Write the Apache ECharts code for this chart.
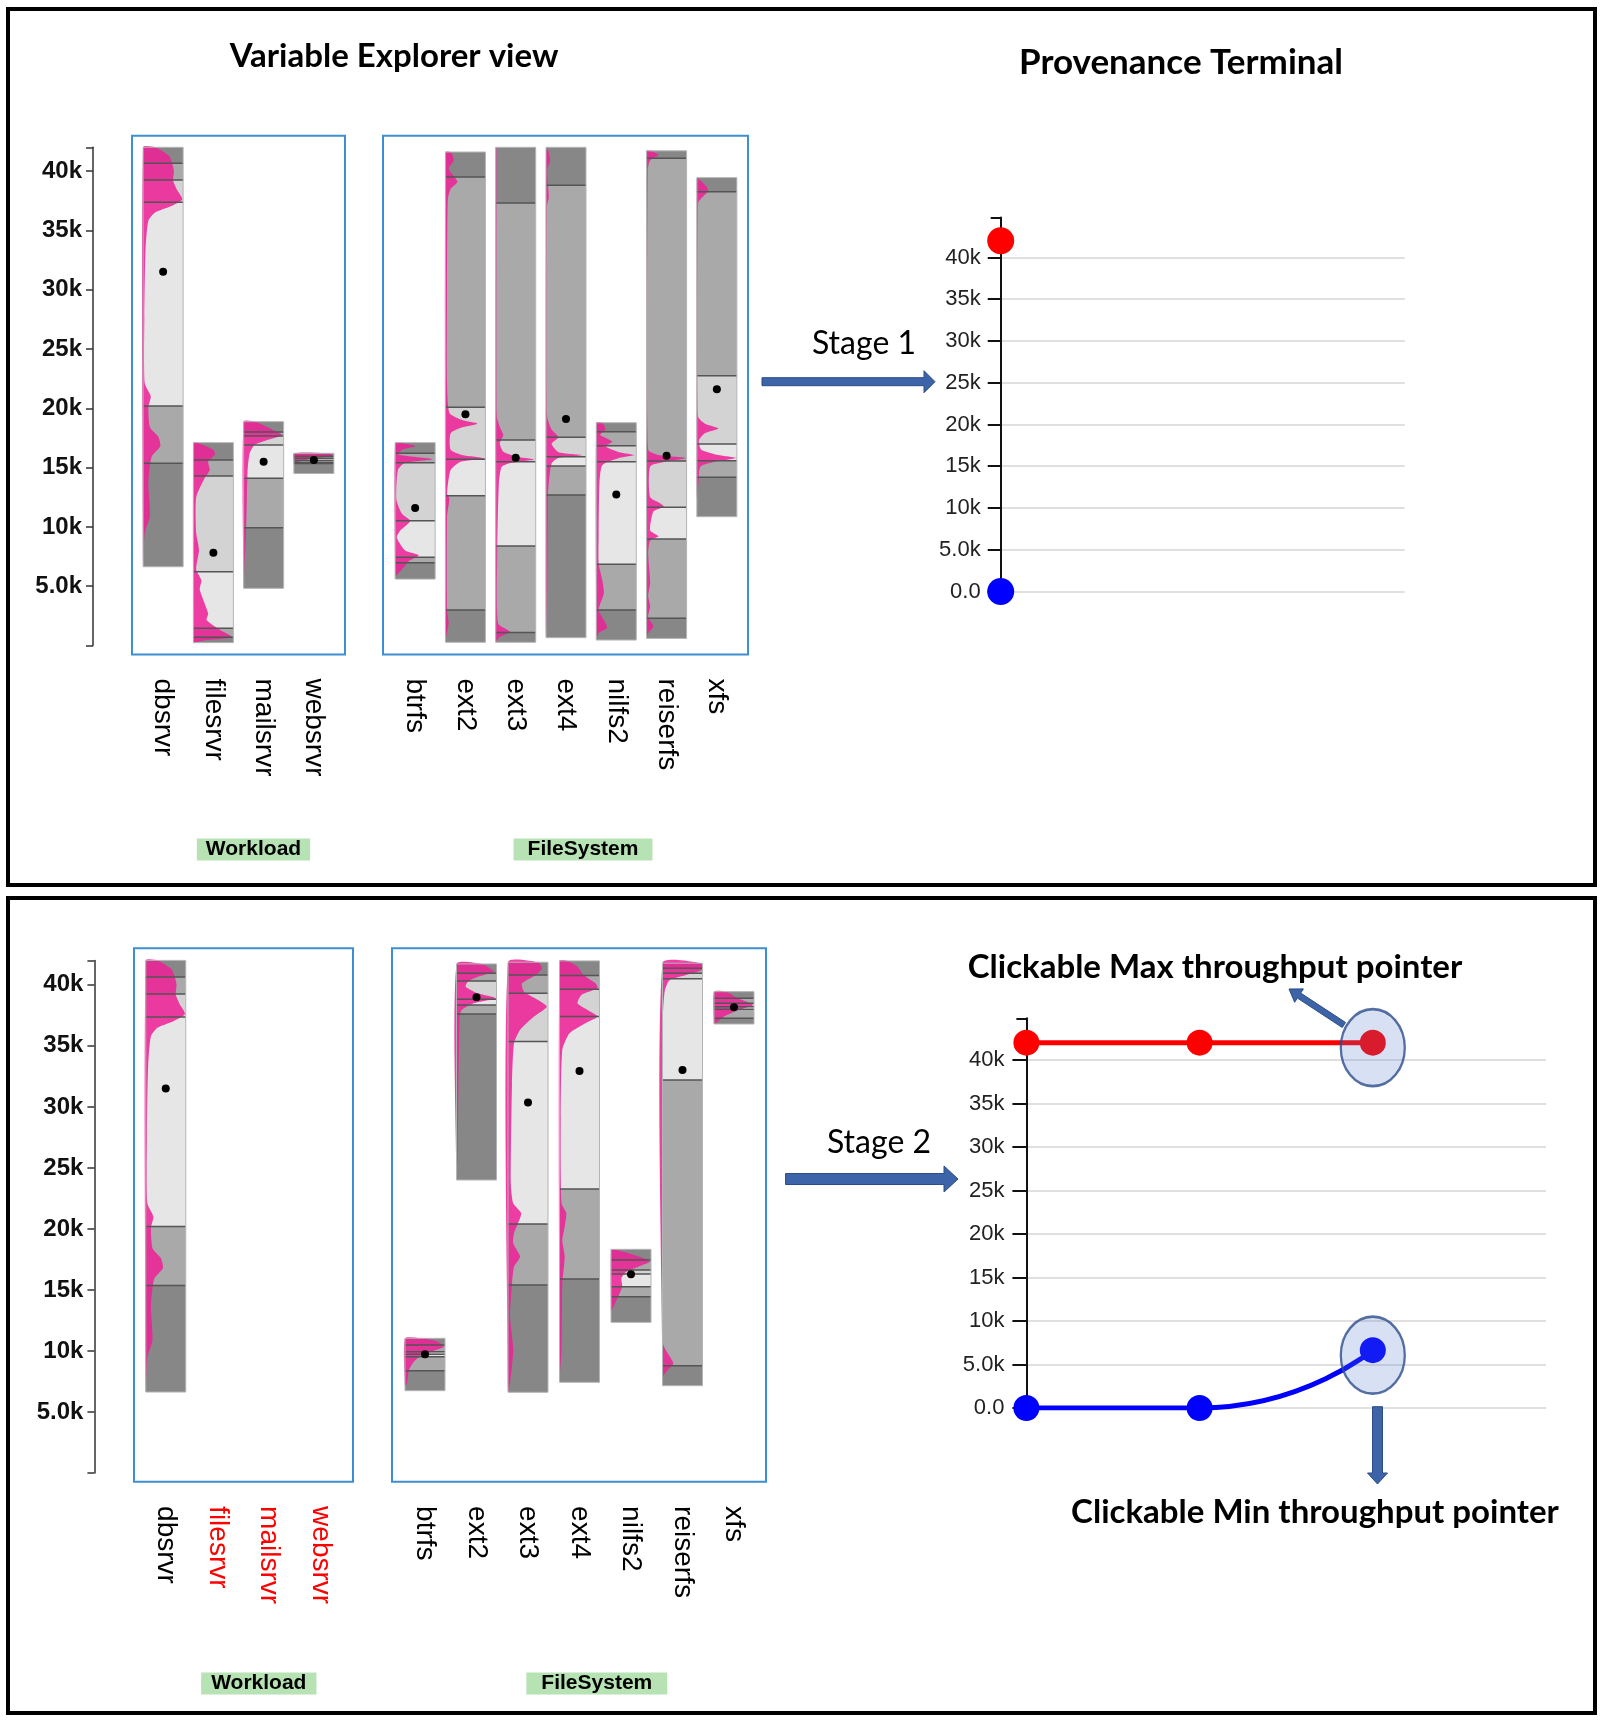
<!DOCTYPE html>
<html>
<head>
<meta charset="utf-8">
<script src="https://cdn.jsdelivr.net/npm/echarts@6/dist/echarts.min.js"></script>
<style>
  html, body { margin: 0; padding: 0; background: #fff; }
  #chart { width: 1601px; height: 1721px; }
</style>
</head>
<body>
<div id="chart"></div>
<script>
'use strict';
// categories of the two explorer boxes
const workloads = ['dbsrvr', 'filesrvr', 'mailsrvr', 'websrvr'];
const fileSystems = ['btrfs', 'ext2', 'ext3', 'ext4', 'nilfs2', 'reiserfs', 'xfs'];
const explorerTicks = [0, 5, 10, 15, 20, 25, 30, 35, 40, 42];
const explorerLabels = [5, 10, 15, 20, 25, 30, 35, 40];
const terminalLabels = [0, 5, 10, 15, 20, 25, 30, 35, 40];

// throughput (k) : 7 breaks per bar -> dark, medium, lightest, light, medium, dark
const dbsrvrBreaks = [6.64, 15.36, 20.2, 37.36, 39.24, 40.65, 42.0];
const dbsrvrMean = 31.5;
// density profile, [throughput (k), width share of the bar], from top to bottom
const dbsrvrDensity = [[42.0,0.3],[41.3,0.64],[40.6,0.73],[40.0,0.77],[39.2,0.75],[38.4,0.85],[37.6,0.98],[37.0,0.68],[36.5,0.3],[35.8,0.13],[33.4,0.06],[27.7,0.03],[22.1,0.04],[21.0,0.19],[20.1,0.13],[18.4,0.17],[17.6,0.38],[16.8,0.43],[15.9,0.21],[13.7,0.13],[10.9,0.17],[9.5,0.04],[6.64,0]];

// Stage 1 : everything selected
const stage1WorkloadBreaks = [
  dbsrvrBreaks,
  [0.24, 0.69, 1.45, 6.22, 14.29, 15.64, 17.1],
  [4.82, 9.93, 14.09, 16.9, 17.66, 18.0, 18.87],
  [14.5, 15.35, 15.44, 15.6, 15.78, 15.95, 16.2]
];
const stage1WorkloadMeans = [dbsrvrMean, 7.82, 15.5, 15.64];
const stage1WorkloadDensity = [
  dbsrvrDensity,
  [[17.1,0.1],[16.5,0.5],[16.1,0.54],[15.5,0.37],[14.8,0.41],[14.1,0.28],[12.5,0.07],[9.5,0.07],[8.05,0.14],[6.4,0.07],[5.5,0.2],[4.7,0.16],[2.7,0.37],[2.15,0.33],[1.3,0.67],[0.7,0.97],[0.45,0.3],[0.24,0]],
  [[18.87,0.3],[18.3,0.66],[17.75,0.96],[17.3,0.57],[16.9,0.27],[16.2,0.15],[14.8,0.1],[12.3,0.08],[9.5,0.06],[6.7,0.02],[4.82,0]],
  [[16.2,0.85],[16.0,0.98],[15.75,0.45],[15.45,0.05],[15.3,0]]
];

const stage1FsBreaks = [
  [5.6, 6.98, 7.43, 10.52, 15.4, 16.2, 17.1],
  [0.27, 2.99, 12.63, 15.7, 20.08, 39.5, 41.6],
  [0.27, 1.1, 8.39, 15.5, 17.32, 37.3, 42.0],
  [0.66, 12.69, 15.13, 15.92, 17.55, 38.8, 42.0],
  [0.46, 2.99, 6.84, 15.5, 16.85, 18.03, 18.78],
  [0.6, 2.29, 8.98, 11.65, 15.55, 41.07, 41.7],
  [10.86, 14.18, 15.58, 16.99, 22.75, 38.26, 39.44]
];
const stage1FsMeans = [11.6, 19.5, 15.83, 19.1, 12.74, 16.0, 21.6];
const stage1FsDensity = [
  [[17.05,0.2],[16.8,0.51],[16.5,0.17],[16.1,0.08],[15.7,0.93],[15.4,0.25],[14.8,0.07],[12.3,0.03],[11.1,0.17],[10.5,0.38],[9.7,0.13],[9.1,0.04],[8.0,0.25],[7.6,0.59],[7.1,0.34],[6.4,0.17],[5.8,0]],
  [[41.6,0.13],[40.9,0.21],[40.2,0.08],[39.1,0.3],[38.5,0.13],[37.6,0.06],[30.5,0.04],[22.1,0.04],[19.6,0.1],[19.0,0.42],[18.7,0.8],[18.4,0.42],[17.9,0.13],[16.5,0.13],[16.05,0.42],[15.77,0.97],[15.5,0.38],[14.8,0.13],[12.8,0.04],[12.4,0.1],[10.9,0.04],[3.0,0.04],[1.9,0.08],[0.45,0]],
  [[42.0,0.02],[19.3,0.03],[18.45,0.1],[17.75,0.19],[17.04,0.1],[16.34,0.19],[15.9,0.57],[15.69,0.96],[15.41,0.4],[15.07,0.15],[13.7,0.08],[8.05,0.04],[1.86,0.06],[1.16,0.36],[0.73,0.1],[0.27,0]],
  [[41.8,0.05],[40.9,0.1],[40.1,0.03],[37.8,0.07],[37.0,0.02],[19.3,0.03],[18.2,0.14],[17.55,0.31],[17.0,0.14],[16.3,0.31],[16.05,0.91],[15.8,0.31],[15.35,0.14],[13.7,0.07],[12.7,0.05],[5.3,0.03],[0.66,0]],
  [[18.78,0.15],[18.2,0.23],[17.75,0.1],[17.2,0.4],[16.8,0.23],[16.3,0.57],[16.05,0.96],[15.8,0.57],[15.2,0.15],[13.7,0.08],[9.5,0.06],[6.9,0.06],[5.5,0.15],[4.4,0.19],[3.0,0.06],[1.9,0.23],[1.5,0.27],[1.05,0.06],[0.46,0]],
  [[41.7,0.09],[41.35,0.3],[40.9,0.09],[40.1,0.03],[16.5,0.04],[16.05,0.3],[15.8,0.98],[15.5,0.47],[15.1,0.09],[12.5,0.09],[12.0,0.34],[11.7,0.43],[11.3,0.17],[9.7,0.09],[9.2,0.3],[8.85,0.09],[7.8,0.04],[5.3,0.09],[4.2,0.04],[3.3,0.09],[2.4,0.04],[1.6,0.17],[1.05,0.04],[0.6,0]],
  [[39.4,0.03],[38.7,0.24],[38.3,0.28],[37.7,0.11],[37.3,0.03],[19.3,0.03],[18.7,0.2],[18.3,0.54],[17.9,0.2],[17.3,0.05],[16.5,0.11],[16.05,0.54],[15.8,0.97],[15.5,0.46],[15.1,0.09],[13.7,0.04],[12.3,0]]
];

// Stage 2 : only dbsrvr kept
const stage2Active = ['dbsrvr'];
const stage2FsBreaks = [
  [6.75, 8.39, 9.54, 9.73, 9.95, 10.5, 11.04],
  [24.01, 37.61, 38.35, 38.82, 40.32, 40.95, 41.71],
  [6.62, 15.41, 20.41, 35.35, 39.31, 40.81, 41.85],
  [7.44, 15.9, 23.28, 37.4, 39.64, 40.76, 41.96],
  [12.35, 14.45, 15.27, 16.3, 16.64, 17.46, 18.33],
  [7.16, 8.8, 32.21, 40.5, 40.95, 41.36, 41.77],
  [36.79, 37.26, 38.0, 38.2, 38.49, 38.9, 39.44]
];
const stage2FsMeans = [9.73, 38.98, 30.35, 32.94, 16.29, 33.03, 38.16];
const stage2FsDensity = [
  [[11.04,0.42],[10.77,0.82],[10.36,0.97],[10.09,0.77],[9.68,0.42],[9.13,0.22],[8.45,0.1],[7.36,0.05],[7.09,0]],
  [[41.71,0.63],[41.08,0.93],[40.67,0.53],[40.26,0.28],[39.85,0.23],[39.3,0.53],[38.9,0.98],[38.49,0.43],[37.94,0.13],[37.4,0.08],[31.9,0.05],[26.5,0.03],[24.02,0]],
  [[41.85,0.75],[41.36,0.85],[40.81,0.7],[40.12,0.35],[39.44,0.4],[38.76,0.75],[38.21,0.97],[37.4,0.65],[36.3,0.3],[35.21,0.15],[31.94,0.1],[23.75,0.07],[22.1,0.13],[21.28,0.33],[20.46,0.25],[19.64,0.15],[18.82,0.13],[17.73,0.3],[16.91,0.15],[15.55,0.1],[12.82,0.05],[10.09,0.13],[7.36,0.05],[6.62,0]],
  [[41.96,0.2],[41.49,0.45],[40.81,0.6],[40.12,0.9],[39.71,0.95],[39.17,0.55],[38.49,0.45],[37.94,0.7],[37.4,0.95],[36.85,0.65],[36.03,0.25],[34.67,0.07],[29.2,0.03],[22.1,0.05],[21.28,0.17],[20.19,0.13],[19.1,0.07],[17.73,0.13],[15.55,0.07],[10.09,0.05],[7.63,0]],
  [[18.34,0.08],[17.87,0.58],[17.33,0.98],[16.91,0.68],[16.5,0.38],[15.96,0.26],[15.27,0.28],[14.45,0.18],[13.63,0.06],[13.22,0]],
  [[41.77,0.95],[41.22,0.98],[40.81,0.59],[40.4,0.18],[39.58,0.06],[37.4,0.01],[10.64,0.01],[10.09,0.08],[9.0,0.27],[8.45,0.13],[7.91,0]],
  [[39.44,0.3],[38.9,0.6],[38.35,0.98],[37.94,0.6],[37.4,0.25],[36.99,0.1],[36.8,0]]
];

// Provenance terminal: max / min throughput per step (k)
const stage1Steps = [0];
const stage1Max = [42.0];
const stage1Min = [0];
const stage2Steps = [0, 1, 2];
const stage2Max = [42.0, 42.0, 42.0];
const stage2Min = [0, 0, 6.65];

const SHADES = ['#878787', '#a9a9a9', '#e6e6e6', '#d3d3d3', '#a9a9a9', '#878787'];
const PINK = 'rgba(238, 32, 150, 0.86)';
const BAR_W = 40;
const ARROW = '#3d64a8';

function kLabel(v) {
  if (v === 0) return '0.0';
  return v < 10 ? v.toFixed(1) + 'k' : v + 'k';
}

function violinRenderer(breaksList, densityList) {
  return function (params, api) {
    const idx = api.value(0);
    const breaks = breaksList[idx];
    const density = densityList[idx];
    const cx = api.coord([idx, 0])[0];
    const x0 = cx - BAR_W / 2;
    const yOf = v => api.coord([idx, v])[1];
    const kids = [];
    for (let k = 0; k < breaks.length - 1; k++) {
      const yt = yOf(breaks[k + 1]);
      const yb = yOf(breaks[k]);
      kids.push({type: 'rect', shape: {x: x0, y: yt, width: BAR_W, height: yb - yt}, style: {fill: SHADES[k]}});
    }
    const pts = [[x0, yOf(density[0][0])]];
    density.forEach(p => pts.push([x0 + p[1] * BAR_W, yOf(p[0])]));
    pts.push([x0, yOf(density[density.length - 1][0])]);
    kids.push({type: 'polygon', shape: {points: pts, smooth: 0.2}, style: {fill: PINK}});
    for (let k = 1; k < breaks.length - 1; k++) {
      const y = yOf(breaks[k]);
      kids.push({type: 'line', shape: {x1: x0, y1: y, x2: x0 + BAR_W, y2: y}, style: {stroke: '#555', lineWidth: 1.5}});
    }
    const top = yOf(breaks[breaks.length - 1]);
    const bot = yOf(breaks[0]);
    kids.push({type: 'rect', shape: {x: x0, y: top, width: BAR_W, height: bot - top}, style: {fill: 'none', stroke: '#b4b4b4', lineWidth: 1}});
    kids.push({type: 'circle', shape: {cx: cx, cy: yOf(api.value(1)), r: 4}, style: {fill: '#000'}});
    return {type: 'group', children: kids};
  };
}

function catAxis(gridIndex, cats, colorFn) {
  return {
    type: 'category', gridIndex: gridIndex, data: cats,
    axisLine: {show: false}, axisTick: {show: false},
    axisLabel: {interval: 0, rotate: -90, margin: 33, fontSize: 28, fontFamily: 'Liberation Sans',
      color: colorFn || '#000'}
  };
}

function explorerYAxis(gridIndex, offset, visible) {
  return {
    type: 'value', gridIndex: gridIndex, min: 0, max: 42, show: visible, offset: offset,
    splitLine: {show: false},
    axisLine: {show: true, lineStyle: {color: '#333', width: 1.5}},
    axisTick: {show: true, length: 7, customValues: explorerTicks, lineStyle: {color: '#333', width: 1.5}},
    axisLabel: {customValues: explorerLabels, margin: 11, fontSize: 24, fontWeight: 'bold',
      fontFamily: 'Liberation Sans', color: '#111', formatter: kLabel}
  };
}

function terminalYAxes(gridIndex, margin, tickLen) {
  return [{
    type: 'value', gridIndex: gridIndex, min: 0, max: 44.8, interval: 5,
    axisLine: {show: true, lineStyle: {color: '#111', width: 2}},
    axisTick: {show: true, length: tickLen, customValues: terminalLabels, lineStyle: {color: '#111', width: 2}},
    axisLabel: {customValues: terminalLabels, margin: margin, fontSize: 22, fontFamily: 'Liberation Sans',
      color: '#222', formatter: kLabel},
    splitLine: {show: true, lineStyle: {color: '#e0e0e0', width: 2}}
  }, {
    type: 'value', gridIndex: gridIndex, min: 0, max: 44.8, position: 'left',
    axisLine: {show: false}, splitLine: {show: false}, axisLabel: {show: false},
    axisTick: {show: true, length: 10, customValues: [44.8], lineStyle: {color: '#111', width: 2}}
  }];
}

function blockArrow(x1, y1, x2, y2, shaft, headW, headL) {
  const dx = x2 - x1, dy = y2 - y1, len = Math.hypot(dx, dy);
  const ux = dx / len, uy = dy / len, nx = -uy, ny = ux;
  const bx = x2 - ux * headL, by = y2 - uy * headL;
  const pts = [
    [x1 + nx * shaft / 2, y1 + ny * shaft / 2],
    [bx + nx * shaft / 2, by + ny * shaft / 2],
    [bx + nx * headW / 2, by + ny * headW / 2],
    [x2, y2],
    [bx - nx * headW / 2, by - ny * headW / 2],
    [bx - nx * shaft / 2, by - ny * shaft / 2],
    [x1 - nx * shaft / 2, y1 - ny * shaft / 2]
  ];
  return {type: 'polygon', z: 50, shape: {points: pts}, style: {fill: ARROW, stroke: '#2b4c85', lineWidth: 1}};
}

function label(text, x, y, size, weight) {
  return {type: 'text', x: x, y: y, z: 50, style: {text: text, fontSize: size, fontWeight: weight || 'normal',
    fontFamily: 'Lato', fill: '#000', align: 'center', verticalAlign: 'middle'}};
}

function tag(text, x, y, padX) {
  return {type: 'text', x: x, y: y, z: 50, style: {text: text, fontSize: 21, fontWeight: 'bold',
    fontFamily: 'Liberation Sans', fill: '#000', align: 'center', verticalAlign: 'middle',
    backgroundColor: '#b6e2b4', padding: [1, padX, 0, padX]}};
}

function box(x, y, w, h) {
  return {type: 'rect', z: 1, shape: {x: x, y: y, width: w, height: h},
    style: {fill: 'none', stroke: '#3d8fd1', lineWidth: 2}};
}

function panel(x, y, w, h) {
  return {type: 'rect', z: 1, shape: {x: x, y: y, width: w, height: h},
    style: {fill: 'none', stroke: '#000', lineWidth: 4}};
}

const stage2WlColor = (v) => stage2Active.indexOf(v) >= 0 ? '#000' : '#ff0000';

const option = {
  animation: false,
  backgroundColor: '#fff',
  grid: [
    {left: 138, width: 201, top: 147.3, height: 498.2},
    {left: 390, width: 352, top: 147.3, height: 498.2},
    {left: 140, width: 206, top: 960.4, height: 512.7},
    {left: 399.25, width: 360.5, top: 960.4, height: 512.7},
    {left: 1000.7, width: 404, top: 217.4, height: 374.1},
    {left: 1026.4, width: 519.6, top: 1018.3, height: 389.7}
  ],
  xAxis: [
    catAxis(0, workloads),
    catAxis(1, fileSystems),
    catAxis(2, workloads, stage2WlColor),
    catAxis(3, fileSystems),
    {type: 'value', gridIndex: 4, min: 0, max: 3, show: false},
    {type: 'value', gridIndex: 5, min: 0, max: 3, show: false}
  ],
  yAxis: [
    explorerYAxis(0, 45, true),
    explorerYAxis(1, 0, false),
    explorerYAxis(2, 45.6, true),
    explorerYAxis(3, 0, false)
  ].concat(terminalYAxes(4, 20, 13), terminalYAxes(5, 22, 14)),
  series: [
    {type: 'custom', xAxisIndex: 0, yAxisIndex: 0,
      renderItem: violinRenderer(stage1WorkloadBreaks, stage1WorkloadDensity),
      data: stage1WorkloadMeans.map((m, i) => [i, m])},
    {type: 'custom', xAxisIndex: 1, yAxisIndex: 1,
      renderItem: violinRenderer(stage1FsBreaks, stage1FsDensity),
      data: stage1FsMeans.map((m, i) => [i, m])},
    {type: 'custom', xAxisIndex: 2, yAxisIndex: 2,
      renderItem: violinRenderer([dbsrvrBreaks], [dbsrvrDensity]),
      data: [[0, dbsrvrMean]]},
    {type: 'custom', xAxisIndex: 3, yAxisIndex: 3,
      renderItem: violinRenderer(stage2FsBreaks, stage2FsDensity),
      data: stage2FsMeans.map((m, i) => [i, m])},
    // stage 1 terminal
    {type: 'line', xAxisIndex: 4, yAxisIndex: 4, symbol: 'circle', symbolSize: 27,
      itemStyle: {color: '#ff0000'}, lineStyle: {color: '#ff0000', width: 5}, z: 3,
      data: stage1Steps.map((s, i) => [s, stage1Max[i]])},
    {type: 'line', xAxisIndex: 4, yAxisIndex: 4, symbol: 'circle', symbolSize: 27,
      itemStyle: {color: '#0000ff'}, lineStyle: {color: '#0000ff', width: 5}, z: 3,
      data: stage1Steps.map((s, i) => [s, stage1Min[i]])},
    // stage 2 terminal
    {type: 'line', xAxisIndex: 5, yAxisIndex: 6, symbol: 'circle', symbolSize: 26,
      itemStyle: {color: '#ff0000'}, lineStyle: {color: '#ff0000', width: 5}, z: 3,
      data: stage2Steps.map((s, i) => [s, stage2Max[i]])},
    {type: 'line', xAxisIndex: 5, yAxisIndex: 6, symbol: 'circle', symbolSize: 26, smooth: 0.6, smoothMonotone: 'x',
      itemStyle: {color: '#0000ff'}, lineStyle: {color: '#0000ff', width: 5}, z: 3,
      data: stage2Steps.map((s, i) => [s, stage2Min[i]])},
    {type: 'scatter', xAxisIndex: 5, yAxisIndex: 6, symbol: 'circle', symbolSize: [64, 77], symbolOffset: [0, 5], z: 6,
      itemStyle: {color: 'rgba(80, 120, 200, 0.28)', borderColor: '#2d4c8c', borderWidth: 2.5},
      data: [[stage2Steps[2], stage2Max[2]], [stage2Steps[2], stage2Min[2]]]}
  ],
  graphic: [
    panel(8, 9, 1587, 876),
    panel(8, 898, 1587, 815),
    box(132, 135.7, 213, 518.8),
    box(383, 135.7, 365, 518.8),
    box(134, 948.3, 219, 533.5),
    box(392, 948.3, 374, 533.5),
    label('Variable Explorer view', 394, 56, 33, 'bold'),
    label('Provenance Terminal', 1181, 63, 35, 'bold'),
    label('Stage 1', 864, 344, 32),
    label('Stage 2', 879, 1143, 32),
    label('Clickable Max throughput pointer', 1215, 967, 33, 'bold'),
    label('Clickable Min throughput pointer', 1315, 1512, 33, 'bold'),
    tag('Workload', 253.5, 849.5, 9),
    tag('FileSystem', 583, 849.5, 14),
    tag('Workload', 258.8, 1683.4, 10),
    tag('FileSystem', 596.8, 1683.4, 15),
    blockArrow(762, 381.7, 935, 381.7, 8, 22, 11),
    blockArrow(785.6, 1179, 958, 1179, 11, 26, 14),
    blockArrow(1343.9, 1025, 1289, 989, 6, 16, 12),
    blockArrow(1377.5, 1406.7, 1377.5, 1484, 10, 20, 11)
  ]
};

const chart = echarts.init(document.getElementById('chart'));
chart.setOption(option);
</script>
</body>
</html>
